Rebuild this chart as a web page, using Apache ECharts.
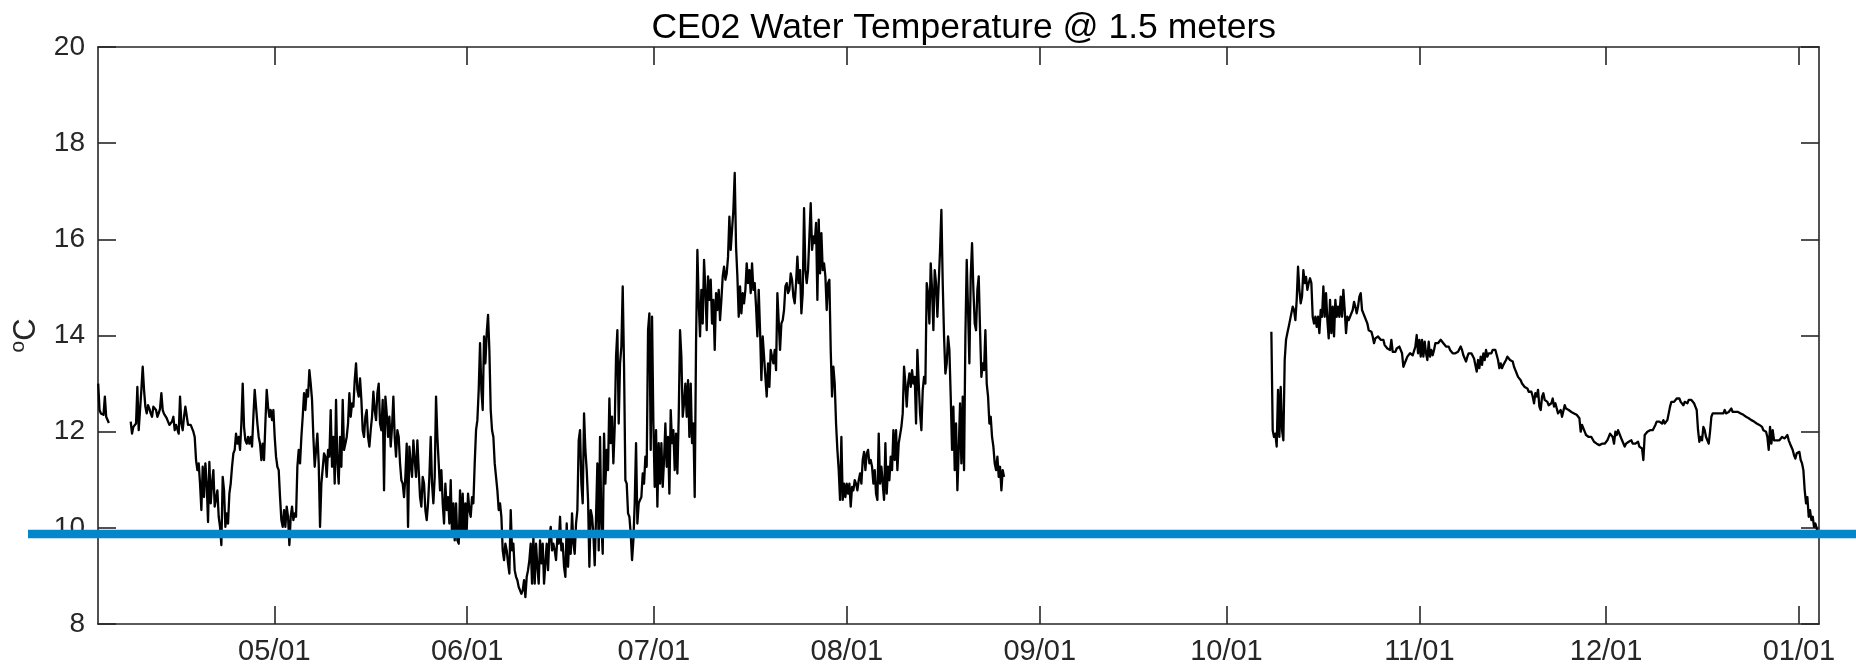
<!DOCTYPE html>
<html>
<head>
<meta charset="utf-8">
<title>CE02 Water Temperature @ 1.5 meters</title>
<script src="https://cdn.jsdelivr.net/npm/echarts@6/dist/echarts.min.js"></script>
<style>
  html, body { margin: 0; padding: 0; background: #ffffff; }
  #chart { width: 1856px; height: 670px; }
</style>
</head>
<body>
<div id="chart"></div>
<script>
// Time axis: days since 1 April. Each deployment segment is a run of readings
// spaced STEP days apart (about every 5 hours).
const STEP = 0.21426;
const X_MIN = 1.67;
const X_MAX = 278.22;

const monthTickDays   = [30, 61, 91, 122, 153, 183, 214, 244, 275];
const monthTickLabels = ['05/01', '06/01', '07/01', '08/01', '09/01', '10/01', '11/01', '12/01', '01/01'];

const Y_MIN = 8, Y_MAX = 20, Y_STEP = 2;

// Reference temperature drawn as a horizontal band across the figure
const referenceTemp = 9.87;

// Early April fragment
const segAStart = 1.70;
const segATemps = [13.00, 12.45, 12.38, 12.37, 12.35, 12.73, 12.31, 12.28, 12.18];

// April - late August
const segBStart = 6.925;
const segBTemps = [
  12.21, 11.96, 12.10, 12.07, 12.17, 12.93, 12.03, 12.00, 12.87, 13.35,
  12.87, 12.52, 12.38, 12.55, 12.48, 12.38, 12.31, 12.52, 12.55, 12.45,
  12.31, 12.38, 12.48, 12.80, 12.45, 12.37, 12.35, 12.28, 12.21, 12.14,
  12.10, 12.21, 12.31, 12.03, 12.14, 12.10, 11.96, 12.73, 12.17, 12.03,
  12.31, 12.52, 12.52, 12.14, 12.10, 12.14, 12.14, 12.00, 11.89, 11.41,
  11.20, 11.34, 10.92, 10.37, 11.27, 10.64, 11.34, 10.92, 10.12, 11.37,
  10.51, 10.92, 11.20, 10.44, 10.61, 10.78, 10.23, 10.02, 9.64, 11.06,
  10.78, 10.02, 10.30, 10.09, 10.71, 10.92, 11.27, 11.55, 11.62, 11.96,
  11.75, 11.89, 11.62, 12.17, 13.00, 12.10, 11.82, 11.75, 11.89, 11.75,
  11.89, 11.69, 12.31, 12.87, 12.52, 12.17, 11.89, 11.75, 11.41, 11.75,
  11.41, 12.17, 12.87, 12.52, 12.31, 12.45, 12.24, 12.45, 11.89, 11.48,
  11.27, 11.20, 10.64, 10.16, 10.02, 10.37, 10.02, 10.44, 10.23, 9.64,
  10.23, 10.44, 10.16, 10.30, 10.23, 11.27, 11.62, 11.34, 11.89, 12.31,
  12.80, 12.45, 12.87, 12.73, 13.28, 13.00, 12.66, 11.89, 11.27, 11.62,
  11.96, 11.34, 10.02, 10.92, 10.92, 11.55, 11.48, 11.06, 11.62, 11.48,
  12.45, 11.27, 11.89, 10.92, 12.66, 11.34, 10.92, 11.89, 11.27, 12.66,
  11.62, 11.75, 11.89, 12.17, 12.80, 12.31, 12.59, 12.52, 13.07, 13.42,
  12.87, 12.73, 13.11, 12.66, 12.03, 11.89, 12.31, 12.45, 11.89, 11.69,
  12.03, 12.31, 12.83, 12.45, 12.24, 12.80, 13.00, 12.17, 12.03, 12.66,
  10.78, 12.73, 12.38, 11.89, 12.31, 11.69, 12.10, 12.73, 11.89, 11.48,
  12.03, 11.89, 11.34, 10.99, 10.92, 10.64, 11.06, 11.75, 10.02, 11.69,
  11.34, 11.06, 11.82, 11.41, 11.06, 11.82, 11.20, 10.64, 10.44, 11.06,
  10.92, 10.37, 10.16, 10.51, 11.06, 11.89, 10.92, 10.51, 11.06, 12.73,
  11.89, 11.34, 10.78, 11.20, 10.51, 10.09, 10.92, 10.37, 10.64, 10.09,
  10.99, 9.81, 10.51, 9.74, 10.51, 9.74, 9.67, 10.78, 9.88, 10.71,
  9.81, 10.51, 9.95, 10.71, 10.37, 10.23, 10.64, 10.51, 11.34, 12.03,
  12.24, 12.87, 13.84, 12.87, 12.45, 13.98, 13.42, 14.05, 14.43, 13.70,
  12.45, 12.03, 11.89, 11.34, 11.06, 10.78, 10.37, 10.51, 10.23, 9.53,
  9.33, 9.67, 9.53, 9.26, 9.05, 10.37, 9.53, 9.67, 9.12, 8.98,
  8.91, 8.77, 8.70, 8.63, 8.70, 8.91, 8.56, 8.98, 9.12, 9.33,
  9.67, 8.84, 9.81, 8.84, 9.67, 9.19, 8.84, 9.74, 9.26, 9.67,
  8.84, 9.26, 9.67, 9.12, 9.81, 10.02, 9.53, 9.67,
  9.53, 9.33, 9.81, 9.67, 10.23, 9.53, 9.67, 9.19, 8.98, 10.09,
  9.19, 9.81, 9.46, 10.30, 9.67, 9.46, 10.09, 10.37, 11.82, 12.03,
  10.92, 10.51, 12.38, 11.62, 11.20, 10.58, 9.19, 10.37, 10.23, 9.88,
  9.22, 10.23, 11.34, 9.53, 11.89, 10.09, 9.46, 11.96, 10.92, 11.62,
  11.20, 12.69, 11.76, 12.31, 11.34, 12.10, 13.56, 14.11, 12.17, 13.42,
  13.77, 15.02, 13.35, 10.99, 10.92, 10.30, 10.23, 9.88, 9.33, 9.74,
  10.51, 11.76, 10.09, 10.51, 10.58, 10.64, 11.13, 10.92, 11.48, 11.27,
  14.11, 14.46, 11.62, 14.39, 12.17, 10.85, 12.03, 10.44, 11.76, 10.92,
  11.76, 10.85, 11.41, 12.17, 11.27, 11.89, 10.71, 12.45, 11.76, 12.03,
  11.20, 11.96, 11.13, 12.31, 14.11, 13.56, 12.31, 12.59, 13.00, 12.31,
  13.07, 11.89, 13.00, 11.76, 12.17, 10.64, 13.84, 15.78, 14.67, 13.98,
  14.95, 14.25, 15.57, 14.95, 14.11, 15.23, 14.74, 15.16, 14.25, 14.74,
  13.70, 14.88, 14.53, 14.95, 14.32, 14.74, 15.23, 15.43, 15.16, 15.29,
  15.64, 16.47, 15.78, 16.20, 16.61, 17.38, 15.85, 15.23, 14.39, 15.02,
  14.46, 14.88, 14.67, 14.95, 15.50, 15.09, 15.36, 14.88, 15.50, 14.95,
  15.09, 14.60, 13.98, 14.95, 14.11, 13.07, 13.98, 13.56, 13.14, 12.73,
  13.42, 12.93, 13.70, 13.56, 13.42, 13.70, 13.28, 14.88,
  14.88, 13.70, 14.25, 14.32, 14.53, 15.02, 15.09, 14.88, 14.95, 15.29,
  15.16, 14.81, 14.67, 15.09, 15.64, 15.09, 15.36, 14.46, 14.88, 16.65,
  15.36, 15.09, 15.36, 16.06, 16.75, 15.78, 16.06, 15.92, 16.34, 14.74,
  16.41, 15.29, 16.13, 15.36, 15.50, 15.23, 14.53, 15.09, 15.16, 13.70,
  12.73, 13.35, 13.00, 12.17, 11.62, 11.20, 10.58, 11.89, 10.58, 10.92,
  10.64, 10.92, 10.71, 10.92, 10.44, 10.85, 10.78, 10.99, 10.92, 10.78,
  10.99, 11.13, 10.92, 11.41, 11.58, 11.20, 11.55, 11.62, 11.34, 11.41,
  11.27, 10.92, 11.20, 10.71, 10.58, 11.96, 10.92, 11.27, 10.92, 10.58,
  11.76, 10.71, 11.27, 10.99, 11.48, 11.20, 12.03, 11.41, 12.03, 11.20,
  11.76, 11.76, 12.10, 12.38, 13.35, 13.00, 12.52, 13.00, 13.21, 12.93,
  13.28, 13.00, 13.14, 12.17, 13.70, 13.00, 12.38, 12.03, 12.86, 13.14,
  13.00, 15.09, 14.88, 14.25, 15.50, 14.95, 14.11, 15.36, 15.09, 14.39,
  15.09, 15.78, 16.61, 15.09, 13.98, 13.21, 13.42, 13.98, 13.70, 12.73,
  11.62, 12.52, 11.20, 12.17, 10.78, 11.62, 12.59, 11.34, 12.73, 11.20,
  13.98, 15.57, 14.53, 13.42, 15.23, 15.92, 14.95, 14.25, 14.11, 14.95,
  15.23, 14.11, 13.14, 13.42, 13.28, 14.11, 13.00, 12.73, 12.17, 12.31,
  11.89, 11.69, 11.34, 11.20, 11.48, 11.06, 11.27, 10.78, 11.20, 11.06
];

// October - early January
const segCStart = 190.22;
const segCTemps = [
  14.08, 12.03, 11.89, 11.96, 11.69, 12.87, 11.89, 12.93, 12.03, 11.82,
  13.49, 13.91, 14.05, 14.18, 14.32, 14.46, 14.60, 14.53, 14.32, 14.74,
  15.43, 14.95, 14.67, 14.81, 15.36, 15.09, 15.22, 14.95, 15.09, 15.19,
  15.09, 14.39, 14.25, 14.39, 14.18, 14.39, 14.05, 14.53, 14.39, 15.02,
  14.39, 14.88, 14.32, 13.94, 14.74, 14.05, 14.60, 13.98, 14.74, 14.39,
  14.60, 14.39, 14.81, 14.39, 14.95, 14.53, 14.05, 14.39, 14.32, 14.39,
  14.39, 14.53, 14.70, 14.60, 14.46, 14.60, 14.81, 14.88, 14.53, 14.46,
  14.39, 14.32, 14.25, 14.11, 14.15, 14.08, 13.98, 13.84, 13.94, 13.91,
  13.98, 14.01, 13.91, 13.87, 13.91, 13.80, 13.77, 13.73, 13.70, 13.70,
  13.91, 13.66, 13.70, 13.66, 13.73, 13.77, 13.77, 13.73, 13.63, 13.35,
  13.39, 13.49, 13.56, 13.59, 13.63, 13.63, 13.59, 13.56, 13.77, 14.01,
  13.63, 13.91, 13.56, 13.91, 13.56, 13.87, 13.63, 13.49, 13.87, 13.56,
  13.70, 13.59, 13.70, 13.84, 13.87, 13.84, 13.87, 13.91, 13.87, 13.84,
  13.80, 13.77, 13.73, 13.77, 13.70, 13.66, 13.63, 13.59, 13.63, 13.63,
  13.66, 13.70, 13.77, 13.70, 13.59, 13.56, 13.46, 13.56, 13.63, 13.66,
  13.63, 13.59, 13.52, 13.56, 13.25, 13.49, 13.32, 13.56, 13.39, 13.63,
  13.49, 13.70, 13.56, 13.63, 13.66, 13.63, 13.70, 13.70, 13.70, 13.66,
  13.49, 13.32, 13.42, 13.32, 13.39, 13.42, 13.49, 13.56, 13.56, 13.49,
  13.49, 13.46, 13.35, 13.28, 13.21, 13.14, 13.11, 13.07, 13.00, 12.97,
  12.93, 12.93, 12.90, 12.83, 12.80, 12.83, 12.73, 12.59, 12.80, 12.73,
  12.87, 12.52, 12.45, 12.73, 12.80,
  12.66, 12.69, 12.62, 12.55, 12.52, 12.59, 12.69, 12.52, 12.59, 12.55,
  12.38, 12.35, 12.45, 12.31, 12.35, 12.55, 12.48, 12.45, 12.45, 12.41,
  12.41, 12.38, 12.38, 12.38, 12.35, 12.31, 12.28, 12.00, 12.14, 12.10,
  12.00, 11.93, 11.93, 11.89, 11.86, 11.89, 11.86, 11.79, 11.82, 11.75,
  11.79, 11.72, 11.69, 11.75, 11.72, 11.75, 11.79, 11.82, 11.82, 11.96,
  12.00, 11.89, 11.75, 12.00, 11.93, 12.03, 12.00, 11.89, 11.82, 11.79,
  11.69, 11.75, 11.75, 11.79, 11.75, 11.82, 11.75, 11.79, 11.75, 11.72,
  11.79, 11.69, 11.69, 11.65, 11.41, 11.93, 11.96, 12.00, 12.00, 12.03,
  12.03, 12.03, 12.07, 12.14, 12.21, 12.17, 12.21, 12.21, 12.17, 12.24,
  12.17, 12.21, 12.24, 12.38, 12.52, 12.62, 12.66, 12.62, 12.66, 12.69,
  12.73, 12.69, 12.62, 12.62, 12.55, 12.62, 12.62, 12.59, 12.66, 12.69,
  12.66, 12.62, 12.59, 12.52, 12.45, 12.03, 11.79, 11.89, 11.82, 12.10,
  12.03, 11.89, 11.86, 11.75, 12.00, 12.31, 12.38, 12.41, 12.38, 12.41,
  12.38, 12.41, 12.38, 12.35, 12.38, 12.45, 12.38, 12.35, 12.41, 12.41,
  12.48, 12.41, 12.45, 12.41, 12.45, 12.41, 12.38, 12.38, 12.35, 12.35,
  12.31, 12.31, 12.28, 12.28, 12.24, 12.24, 12.21, 12.21, 12.17, 12.17,
  12.17, 12.14, 12.10, 12.10, 12.03, 12.03, 12.00, 11.89, 11.62, 12.10,
  11.75, 12.03, 11.82, 11.79, 11.82, 11.86, 11.82, 11.79, 11.89, 11.86,
  11.86, 11.89, 11.93, 11.82, 11.75, 11.72, 11.62, 11.51, 11.44, 11.55,
  11.58, 11.58, 11.41, 11.34, 11.20, 10.78, 10.51, 10.64, 10.23, 10.37,
  10.16, 10.23, 10.02, 10.09, 9.99, 9.81
];

const AXIS_COLOR = '#262626';
const FONT = '"Liberation Sans", Arial, Helvetica, sans-serif';

function toPoints(start, temps) {
  return temps.map((t, i) => [start + i * STEP, t]);
}

function monthLabel(v) {
  const i = monthTickDays.indexOf(Math.round(v));
  return i >= 0 ? monthTickLabels[i] : '';
}

const dataLine = (points) => ({
  type: 'line',
  xAxisIndex: 0,
  yAxisIndex: 0,
  data: points,
  showSymbol: false,
  symbol: 'none',
  lineStyle: { color: '#000000', width: 2.3, join: 'round' },
  z: 2,
  silent: true
});

const baseXAxis = {
  type: 'value',
  gridIndex: 0,
  min: X_MIN,
  max: X_MAX,
  splitLine: { show: false },
  axisLine: { show: true, onZero: false, lineStyle: { color: AXIS_COLOR, width: 1.6 } },
  axisTick: { show: true, inside: true, length: 18, customValues: monthTickDays,
              lineStyle: { color: AXIS_COLOR, width: 1.6 } }
};

const baseYAxis = {
  type: 'value',
  gridIndex: 0,
  min: Y_MIN,
  max: Y_MAX,
  interval: Y_STEP,
  splitLine: { show: false },
  axisLine: { show: true, onZero: false, lineStyle: { color: AXIS_COLOR, width: 1.6 } },
  axisTick: { show: true, inside: true, length: 18, lineStyle: { color: AXIS_COLOR, width: 1.6 } }
};

const chart = echarts.init(document.getElementById('chart'), null, { renderer: 'canvas' });

chart.setOption({
  animation: false,
  backgroundColor: '#ffffff',
  title: {
    text: 'CE02 Water Temperature @ 1.5 meters',
    left: 958.8,
    top: 5,
    textAlign: 'center',
    textStyle: { fontFamily: FONT, fontSize: 35.5, fontWeight: 'normal', color: '#000000' }
  },
  grid: [
    { left: 98, right: 37, top: 47, bottom: 46, containLabel: false },
    { left: 28, right: 0, top: 47, bottom: 46, containLabel: false }
  ],
  xAxis: [
    Object.assign({}, baseXAxis, {
      position: 'bottom',
      axisLabel: { show: true, customValues: monthTickDays, formatter: monthLabel,
                   margin: 13, fontFamily: FONT, fontSize: 29, color: AXIS_COLOR }
    }),
    Object.assign({}, baseXAxis, { position: 'top', axisLabel: { show: false } }),
    { type: 'value', gridIndex: 1, min: 0, max: 1, show: false }
  ],
  yAxis: [
    Object.assign({}, baseYAxis, {
      position: 'left',
      axisLabel: { show: true, margin: 13, fontFamily: FONT, fontSize: 28, color: AXIS_COLOR },
      name: '{sup|o}C',
      nameLocation: 'middle',
      nameRotate: 90,
      nameGap: 54,
      nameTextStyle: {
        fontFamily: FONT, fontSize: 31, color: AXIS_COLOR,
        rich: { sup: { fontFamily: FONT, fontSize: 21, color: AXIS_COLOR, padding: [0, 0, 15, 0] } }
      }
    }),
    Object.assign({}, baseYAxis, { position: 'right', axisLabel: { show: false } }),
    { type: 'value', gridIndex: 1, min: Y_MIN, max: Y_MAX, show: false }
  ],
  series: [
    dataLine(toPoints(segAStart, segATemps)),
    dataLine(toPoints(segBStart, segBTemps)),
    dataLine(toPoints(segCStart, segCTemps)),
    {
      type: 'line',
      xAxisIndex: 2,
      yAxisIndex: 2,
      data: [[0, referenceTemp], [1, referenceTemp]],
      showSymbol: false,
      symbol: 'none',
      clip: false,
      lineStyle: { color: '#0386CA', width: 8.5, cap: 'butt' },
      z: 5,
      silent: true
    }
  ]
});
</script>
</body>
</html>
